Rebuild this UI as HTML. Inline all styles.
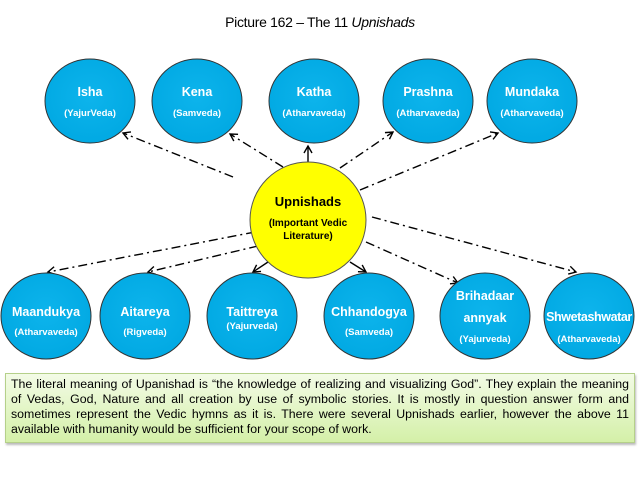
<!DOCTYPE html>
<html><head><meta charset="utf-8"><style>
html,body{margin:0;padding:0;background:#fff;width:640px;height:482px;overflow:hidden}
svg{display:block}
.t{font-family:"Liberation Sans",Arial,sans-serif;font-weight:bold;fill:#fff;text-anchor:middle}
.n{font-size:12.5px}.s{font-size:9.5px}
.box{position:absolute;left:5px;top:373px;width:618px;height:62px;padding:3px 5px;border:1px solid #b5d08a;background:linear-gradient(#f3fbe6,#d4f0a8);font-family:"Liberation Sans",Arial,sans-serif;font-size:12.35px;line-height:15px;text-align:justify;color:#000;box-shadow:1px 2px 2px #bbb}
</style></head><body>
<svg width="640" height="482" viewBox="0 0 640 482">
<defs>
<marker id="a" markerWidth="10" markerHeight="10" refX="8" refY="5" orient="auto" markerUnits="userSpaceOnUse"><path d="M1,1 L8,5 L1,9" fill="none" stroke="#000" stroke-width="1.4"/></marker>
<radialGradient id="b" cx="50%" cy="45%" r="60%"><stop offset="0" stop-color="#0db4ec"/><stop offset="1" stop-color="#00a8e2"/></radialGradient>
</defs>
<text x="320" y="27" font-family="Liberation Sans,Arial,sans-serif" font-size="14" letter-spacing="-0.3" text-anchor="middle">Picture 162  – The 11 <tspan font-style="italic">Upnishads</tspan></text>
<g stroke="#000" stroke-width="1.4" fill="none" marker-end="url(#a)">
<g stroke-dasharray="9,4,2,4">
<line x1="233" y1="177" x2="123" y2="133"/>
<line x1="283" y1="167" x2="230" y2="134"/>
<line x1="340" y1="168" x2="393" y2="132"/>
<line x1="360" y1="190" x2="498" y2="133"/>
<line x1="255" y1="232" x2="48" y2="272"/>
<line x1="258" y1="246" x2="148" y2="272"/>
<line x1="366" y1="242" x2="458" y2="283"/>
<line x1="372" y1="217" x2="576" y2="272"/>
</g>
<line x1="308" y1="162" x2="308" y2="146"/>
<line x1="268" y1="262" x2="253" y2="272"/>
<line x1="350" y1="262" x2="366" y2="272"/>
</g>
<g stroke="#333" stroke-width="1" fill="url(#b)">
<ellipse cx="90" cy="101" rx="45" ry="42"/>
<ellipse cx="197" cy="101" rx="45" ry="42"/>
<ellipse cx="314" cy="101" rx="45" ry="42"/>
<ellipse cx="428" cy="101" rx="45" ry="42"/>
<ellipse cx="532" cy="101" rx="45" ry="42"/>
<ellipse cx="46" cy="316" rx="45" ry="43"/>
<ellipse cx="145" cy="316" rx="45" ry="43"/>
<ellipse cx="252" cy="316" rx="45" ry="43"/>
<ellipse cx="369" cy="316" rx="45" ry="43"/>
<ellipse cx="485" cy="316" rx="45" ry="43"/>
<ellipse cx="589" cy="316" rx="45" ry="43"/>
</g>
<circle cx="308" cy="220" r="58" fill="#ffff00" stroke="#555" stroke-width="1"/>
<text class="t n" x="90" y="96">Isha</text><text class="t s" x="90" y="116">(YajurVeda)</text>
<text class="t n" x="197" y="96">Kena</text><text class="t s" x="197" y="116">(Samveda)</text>
<text class="t n" x="314" y="96">Katha</text><text class="t s" x="314" y="116">(Atharvaveda)</text>
<text class="t n" x="428" y="96">Prashna</text><text class="t s" x="428" y="116">(Atharvaveda)</text>
<text class="t n" x="532" y="96">Mundaka</text><text class="t s" x="532" y="116">(Atharvaveda)</text>
<text class="t n" x="46" y="316">Maandukya</text><text class="t s" x="46" y="335">(Atharvaveda)</text>
<text class="t n" x="145" y="316">Aitareya</text><text class="t s" x="145" y="335">(Rigveda)</text>
<text class="t n" x="252" y="316">Taittreya</text><text class="t s" x="252" y="329">(Yajurveda)</text>
<text class="t n" x="369" y="316">Chhandogya</text><text class="t s" x="369" y="335">(Samveda)</text>
<text class="t n" x="485" y="300">Brihadaar</text><text class="t n" x="485" y="322">annyak</text><text class="t s" x="485" y="342">(Yajurveda)</text>
<text class="t n" x="589" y="321" letter-spacing="-0.4">Shwetashwatar</text><text class="t s" x="589" y="342">(Atharvaveda)</text>
<g font-family="Liberation Sans,Arial,sans-serif" font-weight="bold" text-anchor="middle" fill="#000">
<text x="308" y="206" font-size="13">Upnishads</text>
<text x="308" y="226" font-size="10">(Important Vedic</text>
<text x="308" y="239" font-size="10">Literature)</text>
</g>
</svg>
<div class="box">The literal meaning of Upanishad is “the knowledge of realizing and visualizing God”. They explain the meaning of Vedas, God, Nature and all creation by use of symbolic stories. It is mostly in question answer form and sometimes represent the Vedic hymns as it is. There were several Upnishads earlier, however the above 11 available with humanity would be sufficient for your scope of work.</div>
</body></html>
